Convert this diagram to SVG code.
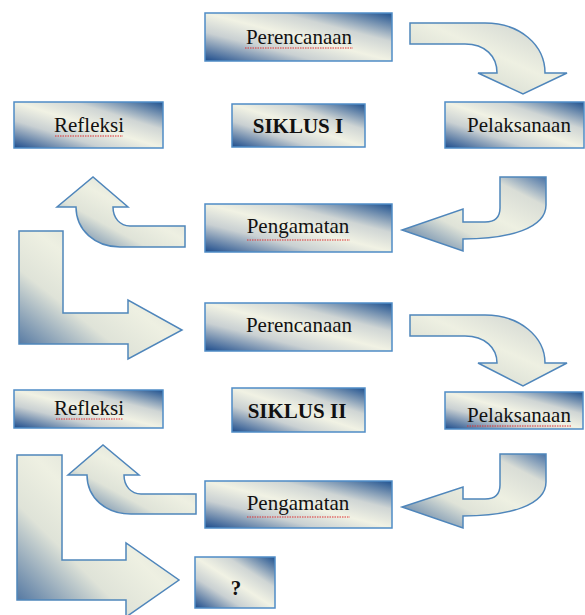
<svg xmlns="http://www.w3.org/2000/svg" width="585" height="615" viewBox="0 0 585 615">
<defs>
<linearGradient id="gBox" x1="0" y1="1" x2="1" y2="0">
<stop offset="0" stop-color="#1d4c8c"/>
<stop offset="0.3" stop-color="#c9d0d2"/>
<stop offset="0.5" stop-color="#f1f2e4"/>
<stop offset="0.7" stop-color="#cfd5d4"/>
<stop offset="1" stop-color="#1f518f"/>
</linearGradient>
<linearGradient id="gArr" x1="0" y1="1" x2="1" y2="0">
<stop offset="0" stop-color="#3d6699"/>
<stop offset="0.35" stop-color="#dfe3d8"/>
<stop offset="0.55" stop-color="#eef0e2"/>
<stop offset="0.8" stop-color="#d9ddd6"/>
<stop offset="1" stop-color="#4a73a6"/>
</linearGradient>
</defs>
<style>
.box{fill:url(#gBox);stroke:#4f8cc6;stroke-width:1.5}
.arr{fill:url(#gArr);stroke:#4f86bb;stroke-width:1.5;stroke-linejoin:miter}
.t{font-size:21px;fill:#111;text-anchor:middle}
.b{font-weight:bold}
.sq{fill:none;stroke:#e03030;stroke-width:1;stroke-dasharray:1.5 1}
</style>
<g id="connectors">
<path class="arr" d="M410,23 L485,23 C520,23 545,45 545,73 L567,73 L523,94 L478,73 L497,73 C497,56 485,44 465,44 L410,44 Z"/>
<path class="arr" d="M500,177 L546,177 L546,205 C546,228 510,239 463,239 L463,251 L402,230 L463,209 L463,222 L485,222 C495,222 500,217 500,208 Z"/>
<path class="arr" d="M185,226 L130,226 C120,226 113,218 113,207 L128,207 L93,177 L57,207 L76,207 C76,230 95,247 120,247 L185,247 Z"/>
<path class="arr" d="M19,231 L63,231 L63,313 L128,313 L128,300 L182,330 L128,359 L128,344 L19,344 Z"/>
<path class="arr" d="M410,315 L485,315 C520,315 545,337 545,363 L567,363 L523,386 L478,363 L497,363 C497,348 485,336 465,336 L410,336 Z"/>
<path class="arr" d="M500,454 L546,454 L546,482 C546,505 510,516 463,516 L463,528 L402,507 L463,487 L463,499 L485,499 C495,499 500,494 500,485 Z"/>
<path class="arr" d="M196,494 L141,494 C131,494 124,486 124,475 L139,475 L103,445 L68,475 L87,475 C87,498 106,514 131,514 L196,514 Z"/>
<path class="arr" d="M17,455 L62,455 L62,560 L126,560 L126,543 L179,580 L126,617 L126,600 L17,600 Z"/>
</g>
<g font-family="'Liberation Serif', 'DejaVu Serif', serif">
<g id="perencanaan1"><rect class="box" x="205" y="13" width="187" height="48"/><text class="t" x="299" y="44">Perencanaan</text><path class="sq" d="M245,48 L353,48"/></g>
<g id="siklus1"><rect class="box" x="232" y="104" width="133" height="43"/><text class="t b" x="298" y="133">SIKLUS I</text></g>
<g id="pelaksanaan1"><rect class="box" x="445" y="102" width="139" height="46"/><text class="t" x="519" y="132">Pelaksanaan</text></g>
<g id="refleksi1"><rect class="box" x="14" y="102" width="149" height="46"/><text class="t" x="89" y="132">Refleksi</text><path class="sq" d="M55,136 L123,136"/></g>
<g id="pengamatan1"><rect class="box" x="205" y="204" width="187" height="48"/><text class="t" x="298" y="233">Pengamatan</text><path class="sq" d="M247,240 L350,240"/></g>
<g id="perencanaan2"><rect class="box" x="205" y="303" width="187" height="48"/><text class="t" x="299" y="332">Perencanaan</text></g>
<g id="siklus2"><rect class="box" x="232" y="388" width="133" height="44"/><text class="t b" x="297" y="418">SIKLUS II</text></g>
<g id="pelaksanaan2"><rect class="box" x="445" y="392" width="138" height="37"/><text class="t" x="519" y="422">Pelaksanaan</text><path class="sq" d="M467,426 L571,426"/></g>
<g id="refleksi2"><rect class="box" x="14" y="390" width="149" height="38"/><text class="t" x="89" y="415">Refleksi</text><path class="sq" d="M56,419 L123,419"/></g>
<g id="pengamatan2"><rect class="box" x="205" y="481" width="187" height="47"/><text class="t" x="298" y="510">Pengamatan</text><path class="sq" d="M247,517 L350,517"/></g>
<g id="question"><rect class="box" x="195" y="557" width="80" height="51"/><text class="t b" x="236" y="595">?</text></g>
</g>
</svg>
